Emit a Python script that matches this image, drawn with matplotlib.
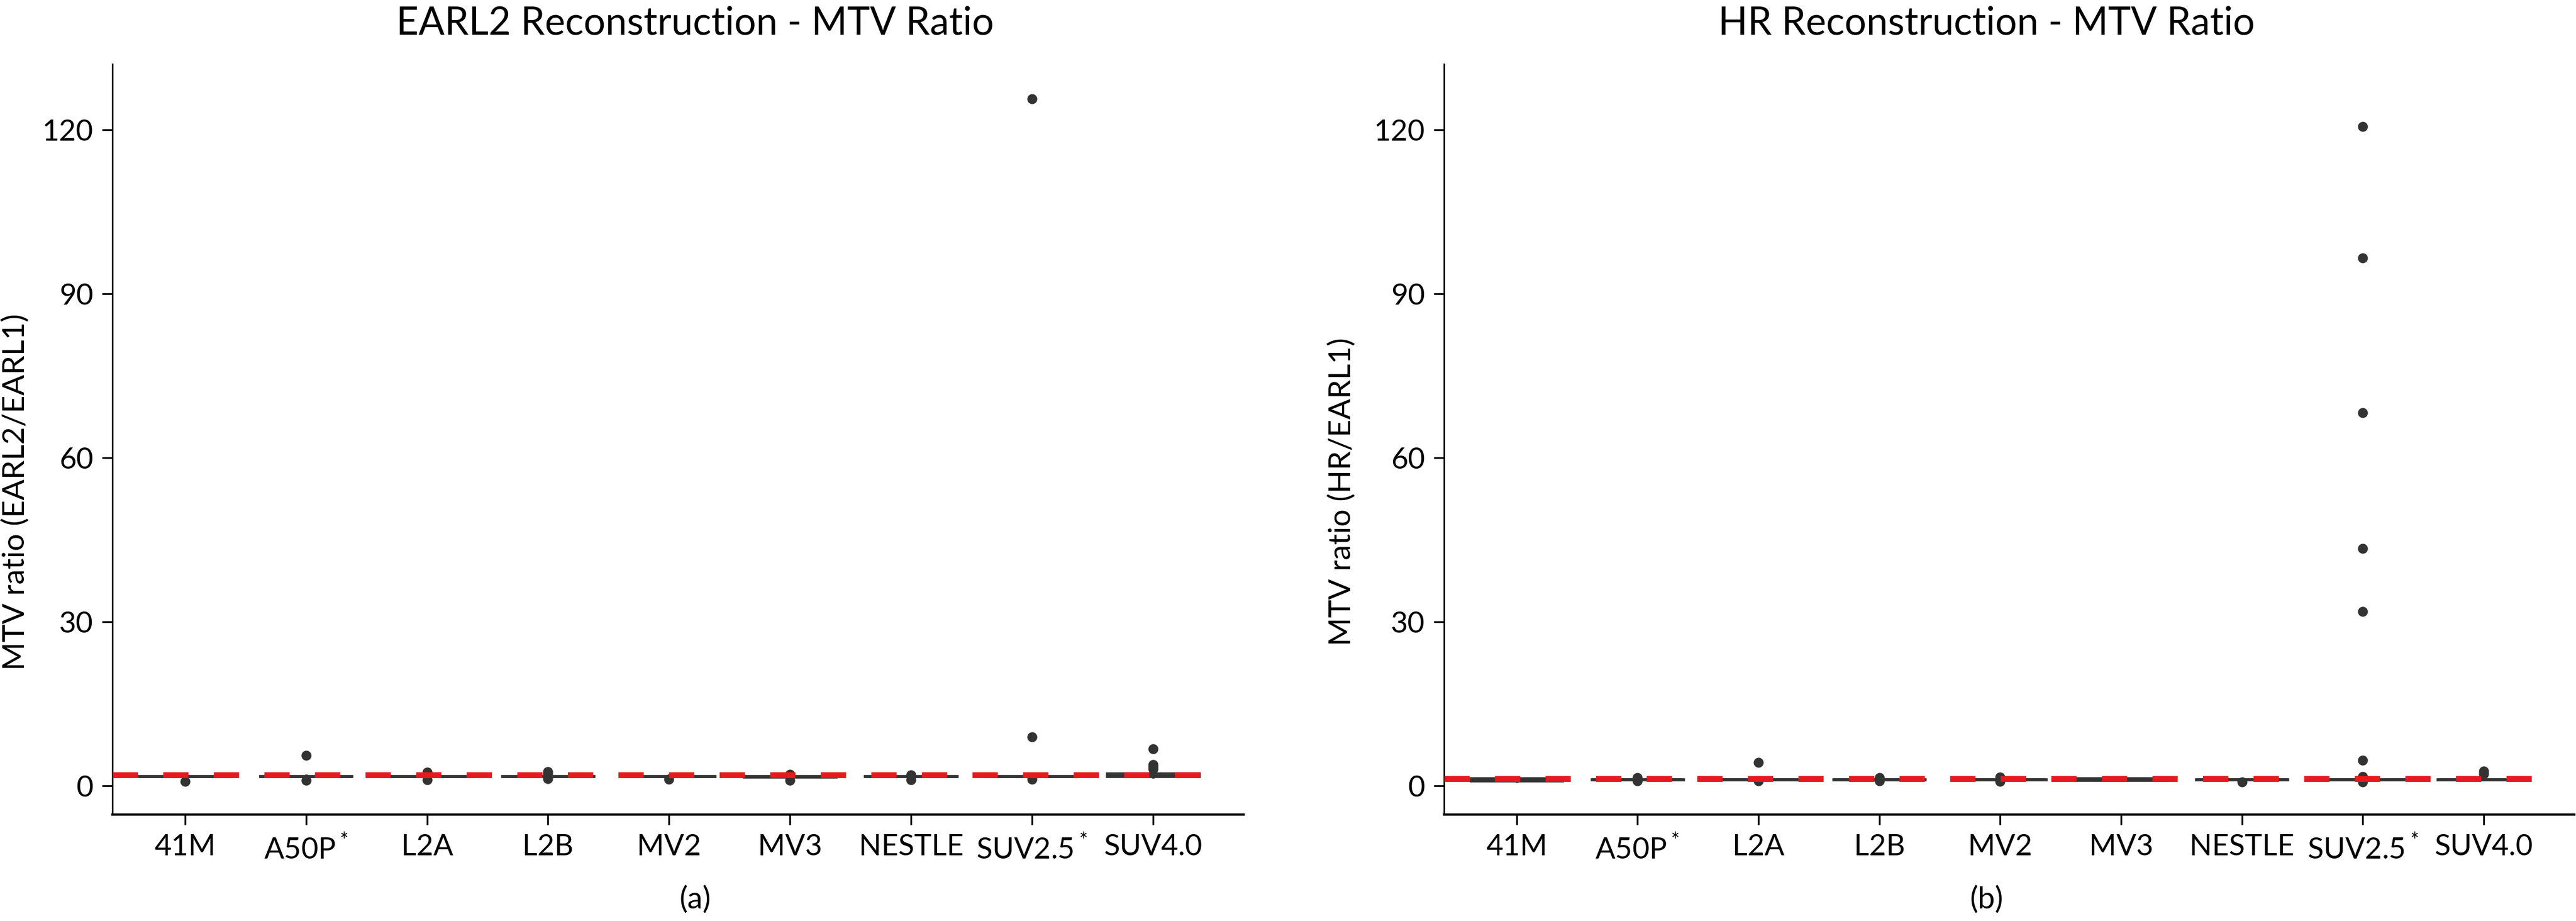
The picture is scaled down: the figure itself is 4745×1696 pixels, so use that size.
import matplotlib
matplotlib.use("Agg")
import matplotlib.pyplot as plt

plt.rcParams['font.family'] = ['Lato', 'DejaVu Sans']
plt.rcParams['mathtext.default'] = 'regular'

# %% data

cats = ["41M", "A50P$^*$", "L2A", "L2B", "MV2", "MV3", "NESTLE", "SUV2.5$^*$", "SUV4.0"]

# EARL2 / EARL1
earl2_lo  = [1.55, 1.60, 1.60, 1.60, 1.60, 1.55, 1.60, 1.60, 1.60]
earl2_q1  = [1.65, 1.65, 1.65, 1.65, 1.65, 1.60, 1.65, 1.65, 1.65]
earl2_med = [1.70, 1.70, 1.70, 1.70, 1.70, 1.70, 1.70, 1.70, 1.90]
earl2_q3  = [1.80, 1.75, 1.75, 1.75, 1.75, 1.80, 1.75, 1.75, 2.30]
earl2_hi  = [1.90, 1.85, 1.85, 1.85, 1.85, 1.90, 1.85, 1.85, 2.50]
earl2_fliers = [
    [0.8],
    [5.5, 1.0],
    [2.4, 1.1],
    [2.5, 2.2, 1.3],
    [1.2],
    [2.1, 1.0],
    [2.0, 1.1],
    [125.6, 8.9, 1.2],
    [6.7, 3.8, 3.4, 3.0],
]
earl2_ref = 2.0

# HR / EARL1
hr_lo  = [0.75, 1.05, 1.05, 1.05, 1.05, 0.95, 1.05, 1.05, 1.05]
hr_q1  = [0.85, 1.10, 1.10, 1.10, 1.10, 1.00, 1.10, 1.10, 1.10]
hr_med = [1.10, 1.15, 1.15, 1.15, 1.15, 1.15, 1.15, 1.15, 1.15]
hr_q3  = [1.40, 1.20, 1.20, 1.20, 1.20, 1.35, 1.20, 1.20, 1.20]
hr_hi  = [1.50, 1.25, 1.25, 1.25, 1.25, 1.45, 1.25, 1.25, 1.25]
hr_fliers = [
    [],
    [1.5, 0.9],
    [4.2, 0.9],
    [1.5, 0.9],
    [1.6, 0.8],
    [],
    [0.7],
    [120.6, 96.5, 68.2, 43.4, 31.9, 4.6, 1.7, 0.7],
    [2.6, 2.2],
]
hr_ref = 1.3

yticks = [0, 30, 60, 90, 120]

# %% drawing

W, H = 4745, 1696
fig = plt.figure(figsize=(W / 300, H / 300), dpi=300)

ax1 = fig.add_axes([207 / W, 1 - 1500 / H, (2291 - 207) / W, (1500 - 118) / H])
ax2 = fig.add_axes([2660 / W, 1 - 1500 / H, (4742 - 2660) / W, (1500 - 118) / H])

dark = "#333333"
red = "#E41A1C"


def draw_panel(ax, lo, q1, med, q3, hi, fliers, ref, title, ylabel, letter, tx, ly):
    stats = []
    for i in range(len(cats)):
        stats.append(dict(whislo=lo[i], q1=q1[i], med=med[i], q3=q3[i],
                          whishi=hi[i], fliers=fliers[i]))
    ax.bxp(stats, positions=range(len(cats)), widths=0.76, patch_artist=True,
           boxprops=dict(facecolor="white", edgecolor=dark, linewidth=1.1),
           medianprops=dict(color=dark, linewidth=1.1),
           whiskerprops=dict(color=dark, linewidth=1.1),
           capprops=dict(linewidth=0),
           flierprops=dict(marker="o", markersize=3.4, markerfacecolor=dark,
                           markeredgecolor=dark, linestyle="none"),
           manage_ticks=False)
    ax.set_xlim(-0.6, 8.75)
    ax.set_ylim(-5.3, 132)
    ax.hlines(ref, -0.6, len(cats) - 1 + 0.42, colors=red, linewidth=2.6,
              linestyles=(0, (4.3, 4.3)), zorder=5)

    ax.set_xticks(range(len(cats)))
    ax.set_xticklabels(cats, fontsize=13)
    ax.set_yticks(yticks)
    ax.set_yticklabels([str(v) for v in yticks], fontsize=13)
    ax.tick_params(axis="both", length=4.5, width=0.8, pad=4)

    for s in ["top", "right"]:
        ax.spines[s].set_visible(False)
    ax.spines["left"].set_linewidth(0.7)
    ax.spines["bottom"].set_linewidth(1.0)

    ax.set_title(title, fontsize=17, x=tx, pad=13)
    ax.set_ylabel(ylabel, fontsize=13.5)
    ax.yaxis.set_label_coords(ly, 0.43)
    ax.text(tx, -0.125, letter, transform=ax.transAxes, ha="center",
            va="baseline", fontsize=13.5)


draw_panel(ax1, earl2_lo, earl2_q1, earl2_med, earl2_q3, earl2_hi, earl2_fliers,
           earl2_ref, "EARL2 Reconstruction - MTV Ratio", "MTV ratio (EARL2/EARL1)",
           "(a)", 0.515, -0.073)
draw_panel(ax2, hr_lo, hr_q1, hr_med, hr_q3, hr_hi, hr_fliers,
           hr_ref, "HR Reconstruction - MTV Ratio", "MTV ratio (HR/EARL1)",
           "(b)", 0.48, -0.078)

fig.savefig("out.png", dpi=300)
